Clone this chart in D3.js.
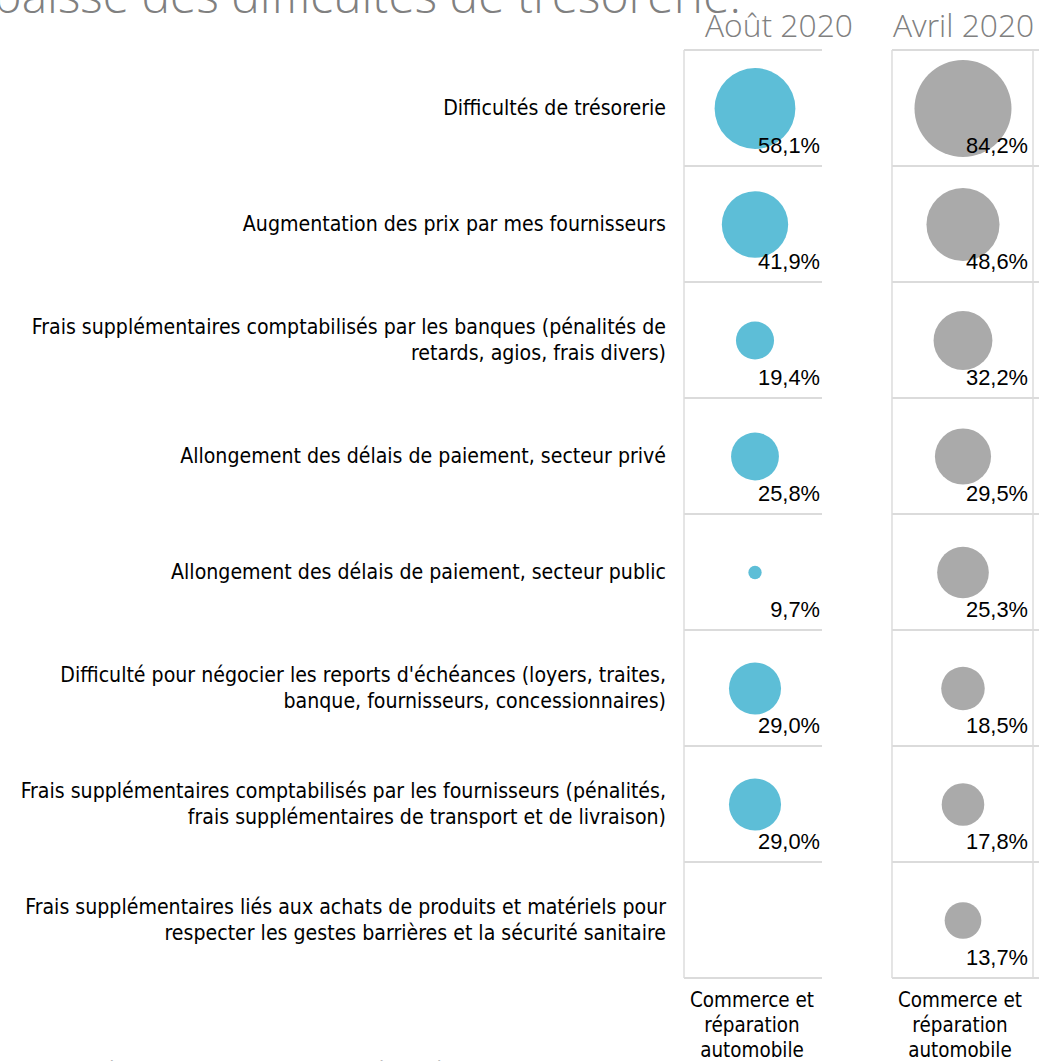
<!DOCTYPE html>
<html><head><meta charset="utf-8">
<script src="https://cdn.jsdelivr.net/npm/d3@7"></script>
<style>
html,body{margin:0;padding:0;background:#fff;overflow:hidden;}
svg{display:block;}
</style></head>
<body>
<script>
// ---- data ----
const titleText = "Une baisse des difficultés de trésorerie.";
const seriesNames = ["Août 2020", "Avril 2020"];
const categories = [
  ["Difficultés de trésorerie"],
  ["Augmentation des prix par mes fournisseurs"],
  ["Frais supplémentaires comptabilisés par les banques (pénalités de", "retards, agios, frais divers)"],
  ["Allongement des délais de paiement, secteur privé"],
  ["Allongement des délais de paiement, secteur public"],
  ["Difficulté pour négocier les reports d'échéances (loyers, traites,", "banque, fournisseurs, concessionnaires)"],
  ["Frais supplémentaires comptabilisés par les fournisseurs (pénalités,", "frais supplémentaires de transport et de livraison)"],
  ["Frais supplémentaires liés aux achats de produits et matériels pour", "respecter les gestes barrières et la sécurité sanitaire"]
];
const aout2020 = [58.1, 41.9, 19.4, 25.8, 9.7, 29.0, 29.0, null];
const avril2020 = [84.2, 48.6, 32.2, 29.5, 25.3, 18.5, 17.8, 13.7];
const sectorLabel = ["Commerce et", "réparation", "automobile"];
const footnote = "Plusieurs réponses possibles (total supérieur à 100%)";

const W = 1047, H = 1061;
const svg = d3.select("body").append("svg").attr("width", W).attr("height", H);

// font calibration helper
function fit(text, family, weight, target, base) {
  const t = svg.append("text").attr("font-family", family).attr("font-weight", weight)
    .attr("font-size", base).text(text);
  const w = t.node().getComputedTextLength();
  t.remove();
  return base * target / w;
}
const labelFont = "'DejaVu Sans Condensed', 'DejaVu Sans', sans-serif";
const numFont = "'Liberation Sans', Arial, sans-serif";
const headFont = "'Open Sans', 'Noto Sans', sans-serif";

const labelSize = fit("Difficultés de trésorerie", labelFont, 400, 223, 20);
const sectorSize = fit("Commerce et", labelFont, 400, 124, 20);
const numSize = fit("58,1%", numFont, 400, 62, 20);
const headSize = fit("Août 2020", headFont, 300, 148, 30);
const titleSize = fit("baisse des difficultés de trésorerie.", headFont, 300, 748, 40);

// ---- scales ----
const keys = categories.map((c, i) => i);
const y = d3.scaleBand().domain(keys).range([50, 978]);
const x = d3.scaleBand().domain(seriesNames).range([684, 1033]).paddingInner(0.322).paddingOuter(0);
const series = [
  {name: seriesNames[0], values: aout2020, color: "#5dbed7",
   area: d3.scaleLinear().domain([8.35, 58.1]).range([0, 40.4 * 40.4])},
  {name: seriesNames[1], values: avril2020, color: "#aaaaaa",
   area: d3.scaleLinear().domain([1.95, 84.2]).range([0, 48.5 * 48.5])}
];
const lineEnd = [138, 147];

// title (clipped at the top)
svg.append("text").attr("x", 741).attr("y", 13).attr("text-anchor", "end")
  .attr("font-family", headFont).attr("font-weight", 300).attr("font-size", titleSize)
  .attr("fill", "#808080").text(titleText);

// headers
svg.selectAll("text.head").data(series).join("text").attr("class", "head")
  .attr("x", (d, i) => x(d.name) + (i === 0 ? 21 : 1)).attr("y", 37)
  .attr("font-family", headFont).attr("font-weight", 300).attr("font-size", headSize)
  .attr("fill", "#808080").text(d => d.name);

// category labels
const lab = svg.append("g");
categories.forEach((lines, i) => {
  const cy = y(i) + y.bandwidth() / 2;
  const t = lab.append("text").attr("text-anchor", "end")
    .attr("font-family", labelFont).attr("font-size", labelSize).attr("fill", "#000");
  lines.forEach((ln, j) => {
    t.append("tspan").attr("x", 666)
      .attr("y", cy + (j - (lines.length - 1) / 2) * 26)
      .attr("dy", "0.35em").text(ln);
  });
});

// panels
series.forEach((s, si) => {
  const g = svg.append("g");
  const x0 = x(s.name);
  const bounds = [y(0)].concat(keys.map(k => y(k) + y.step()));
  g.selectAll("line.h").data(bounds).join("line")
    .attr("x1", x0).attr("x2", x0 + lineEnd[si])
    .attr("y1", d => d).attr("y2", d => d)
    .attr("stroke", "#cfcfcf").attr("stroke-width", 1.5);
  g.append("line").attr("x1", x0).attr("x2", x0).attr("y1", y(0)).attr("y2", y(keys.length - 1) + y.step())
    .attr("stroke", "#dcdcdc").attr("stroke-width", 1.5);
  if (si === 1) {
    g.append("line").attr("x1", x0 + x.bandwidth()).attr("x2", x0 + x.bandwidth())
      .attr("y1", y(0)).attr("y2", y(keys.length - 1) + y.step())
      .attr("stroke", "#dcdcdc").attr("stroke-width", 1.5);
  }
  const data = s.values.map((v, i) => ({v, i})).filter(d => d.v != null);
  g.selectAll("circle").data(data).join("circle")
    .attr("cx", x0 + 71).attr("cy", d => y(d.i) + 58.5)
    .attr("r", d => Math.sqrt(Math.max(0, s.area(d.v))))
    .attr("fill", s.color);
  g.selectAll("text.v").data(data).join("text").attr("class", "v")
    .attr("x", x0 + 136).attr("y", d => y(d.i) + 103).attr("text-anchor", "end")
    .attr("font-family", numFont).attr("font-size", numSize).attr("fill", "#000")
    .text(d => d3.format(".1f")(d.v).replace(".", ",") + "%");
  const t = g.append("text").attr("text-anchor", "middle")
    .attr("font-family", labelFont).attr("font-size", sectorSize).attr("fill", "#000");
  sectorLabel.forEach((ln, j) => {
    t.append("tspan").attr("x", x0 + 68).attr("y", 1007 + j * 25).text(ln);
  });
});

// footnote (mostly clipped at the bottom edge)
svg.append("text").attr("x", 5).attr("y", 1078)
  .attr("font-family", labelFont).attr("font-size", labelSize).attr("fill", "#7f7f7f")
  .text(footnote);
</script>
</body></html>
